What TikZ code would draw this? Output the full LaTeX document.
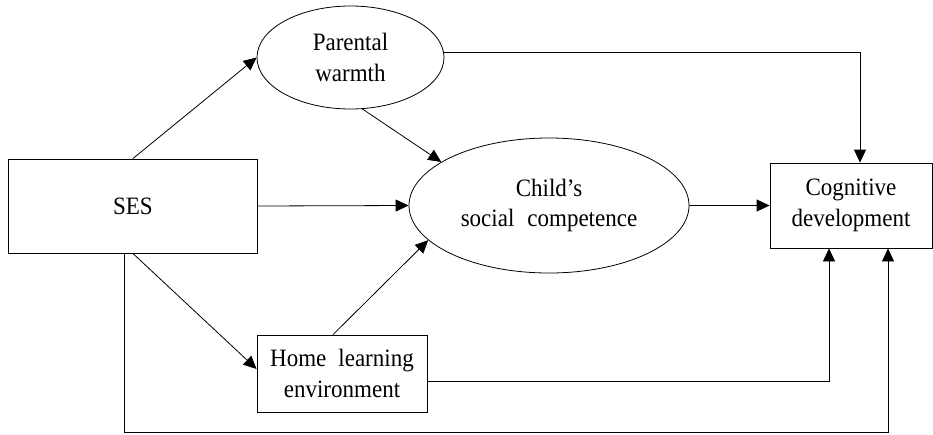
\documentclass[tikz,border=0pt]{standalone}
\usepackage{fontspec}
\setmainfont{Liberation Serif}[FakeStretch=0.92]
\usetikzlibrary{arrows.meta,shapes.geometric}
\begin{document}
\begin{tikzpicture}[x=1pt,y=-1pt,
  every node/.style={font=\fontsize{25}{30.5}\selectfont, align=center, inner sep=0pt, line width=0.8pt},
  box/.style={draw, rectangle},
  oval/.style={draw, ellipse},
  arr/.style={-{Triangle[length=13pt,width=12pt]}, line width=0.8pt}]
\useasboundingbox (0,0) rectangle (933,434);
\node[box, minimum width=248.3pt, minimum height=94pt] (ses) at (132.85,206) {SES};
\node[oval, minimum width=187pt, minimum height=103pt] (pw) at (350.5,57.5) {Parental\\warmth};
\node[oval, minimum width=280pt, minimum height=135pt] (csc) at (549,205.5) {Child’s\\social\hspace{13pt}competence};
\node[box, minimum width=170pt, minimum height=77pt] (hle) at (342,373.5) {Home\hspace{12pt}learning\\environment};
\node[box, minimum width=162pt, minimum height=85pt] (cog) at (851,205.5) {Cognitive\\development};
\draw[arr] (ses.north) -- (pw.west);
\draw[arr] (pw.-77) -- (csc.158);
\draw[arr] (ses.east) -- (csc.west);
\draw[arr] ([yshift=5.5pt]pw.east) -| ([xshift=9pt]cog.north);
\draw[arr] (csc.east) -- (cog.west);
\draw[arr] (ses.south) -- ([yshift=4.5pt]hle.west);
\draw[arr] ([xshift=-9pt]hle.north) -- (csc.196.5);
\draw[arr] ([yshift=-7.5pt]hle.east) -| ([xshift=-22pt]cog.south);
\draw[arr] ([xshift=-8.5pt]ses.south) -- ++(0,179) -| ([xshift=37pt]cog.south);
\end{tikzpicture}
\end{document}
